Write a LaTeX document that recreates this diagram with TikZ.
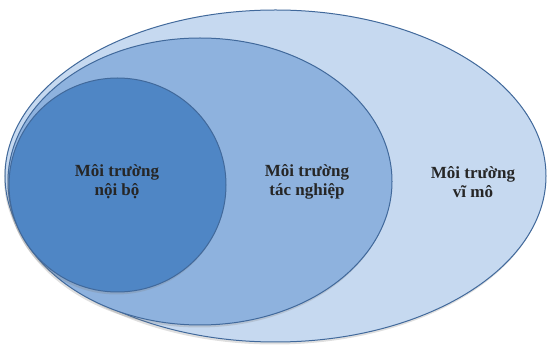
\documentclass[tikz,border=0pt]{standalone}
\usepackage{fontspec}
\setmainfont{Liberation Serif}
\usetikzlibrary{shadows}
\definecolor{rimblue}{HTML}{41699B}
\definecolor{macroblue}{HTML}{C6D9F0}
\definecolor{taskblue}{HTML}{8EB2DE}
\definecolor{coreblue}{HTML}{4F86C5}
\tikzset{
  ring/.style={draw=rimblue,line width=1pt,
    drop shadow={shadow xshift=-1pt,shadow yshift=-2.5pt,opacity=0.25}},
  label/.style={font=\fontsize{17}{19}\selectfont\bfseries,align=center,
    text=black!85}
}
\begin{document}
\begin{tikzpicture}[x=1pt,y=1pt]
  \useasboundingbox (0,0) rectangle (549,348);
  % outer: macro environment
  \path[ring,fill=macroblue] (275.5,172) ellipse [x radius=270.5,y radius=166];
  % middle: task environment
  \path[ring,fill=taskblue] (200,166.5) ellipse [x radius=192,y radius=143.5];
  % inner: internal environment
  \path[ring,fill=coreblue] (117.5,163) ellipse [x radius=108.5,y radius=107];
  \node[label] (noibo) at (117,166) {Môi trường\\ nội bộ};
  \node[label] (tacnghiep) at (307,166) {Môi trường\\ tác nghiệp};
  \node[label] (vimo) at (473,166) {Môi trường\\ vĩ mô};
\end{tikzpicture}
\end{document}
